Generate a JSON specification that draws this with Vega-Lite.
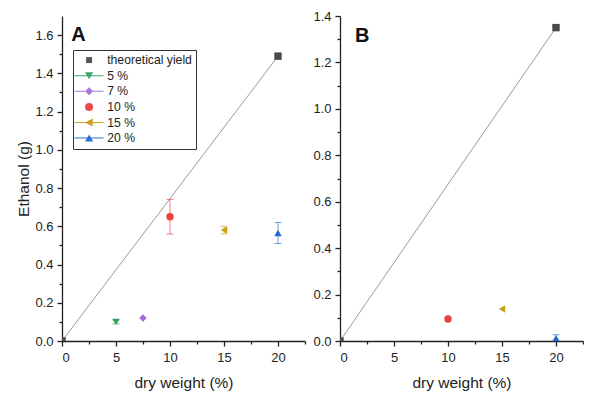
{
  "$schema": "https://vega.github.io/schema/vega-lite/v6.json",
  "background": "white",
  "padding": {"left": 16, "top": 10, "right": 0, "bottom": 0},
  "datasets": {
    "a": [
      {"series": "theoretical yield", "dw": 0, "eth": 0},
      {"series": "theoretical yield", "dw": 20, "eth": 1.49},
      {"series": "5 %", "dw": 5, "eth": 0.1, "lo": 0.09, "hi": 0.11},
      {"series": "7 %", "dw": 7.5, "eth": 0.12},
      {"series": "10 %", "dw": 10, "eth": 0.65, "lo": 0.56, "hi": 0.74},
      {"series": "15 %", "dw": 15, "eth": 0.58, "lo": 0.56, "hi": 0.6},
      {"series": "20 %", "dw": 20, "eth": 0.565, "lo": 0.51, "hi": 0.62}
    ],
    "b": [
      {"series": "theoretical yield", "dw": 0, "eth": 0},
      {"series": "theoretical yield", "dw": 20, "eth": 1.35},
      {"series": "10 %", "dw": 10, "eth": 0.095},
      {"series": "15 %", "dw": 15, "eth": 0.138},
      {"series": "20 %", "dw": 20, "eth": 0.012, "lo": 0.0, "hi": 0.027}
    ],
    "leg": [
      {"series": "theoretical yield"},
      {"series": "5 %"},
      {"series": "7 %"},
      {"series": "10 %"},
      {"series": "15 %"},
      {"series": "20 %"}
    ],
    "pa": [{"panel": "A"}],
    "pb": [{"panel": "B"}]
  },
  "hconcat": [
    {
      "width": 243,
      "height": 325,
      "resolve": {"scale": {"shape": "independent", "color": "independent"}, "axis": {"x": "independent", "y": "independent"}},
      "layer": [
        {
          "data": {"name": "a"},
          "transform": [{"filter": "datum.series === 'theoretical yield'"}],
          "mark": {"type": "line", "color": "#9a9a9a", "strokeWidth": 1, "clip": true},
          "encoding": {
            "x": {"field": "dw", "type": "quantitative", "scale": {"domain": [0, 22.5], "nice": false, "zero": false},
                  "axis": {"orient": "bottom", "values": [2.5, 7.5, 12.5, 17.5, 22.5], "labels": false, "title": null, "domain": false, "tickSize": 3}},
            "y": {"field": "eth", "type": "quantitative", "scale": {"domain": [0, 1.7], "nice": false, "zero": false},
                  "axis": {"orient": "left", "values": [0.1, 0.3, 0.5, 0.7, 0.9, 1.1, 1.3, 1.5], "labels": false, "title": null, "domain": false, "tickSize": 3}}
          }
        },
        {
          "data": {"name": "a"},
          "transform": [{"filter": "isValid(datum.lo)"}],
          "mark": {"type": "errorbar", "ticks": {"size": 7}, "thickness": 1, "opacity": 0.65},
          "encoding": {
            "x": {"field": "dw", "type": "quantitative", "axis": null},
            "y": {"field": "lo", "type": "quantitative", "axis": null},
            "y2": {"field": "hi"},
            "color": {"field": "series", "type": "nominal", "legend": null,
                      "scale": {"domain": ["theoretical yield", "5 %", "7 %", "10 %", "15 %", "20 %"], "range": ["#4a4a4a", "#2ca05a", "#a26bd6", "#ea4040", "#c9a010", "#1f6bd1"]}}
          }
        },
        {
          "data": {"name": "a"},
          "mark": {"type": "point", "filled": true, "opacity": 1, "size": 55, "clip": true},
          "encoding": {
            "x": {"field": "dw", "type": "quantitative",
                  "axis": {"orient": "bottom", "values": [0, 5, 10, 15, 20], "title": "dry weight (%)", "labelPadding": 5, "titlePadding": 11}},
            "y": {"field": "eth", "type": "quantitative",
                  "axis": {"orient": "left", "values": [0, 0.2, 0.4, 0.6, 0.8, 1.0, 1.2, 1.4, 1.6], "format": ".1f", "title": "Ethanol (g)", "labelPadding": 4, "titlePadding": 3}},
            "color": {"field": "series", "type": "nominal", "legend": null,
                      "scale": {"domain": ["theoretical yield", "5 %", "7 %", "10 %", "15 %", "20 %"], "range": ["#4a4a4a", "#2ca05a", "#a26bd6", "#ea4040", "#c9a010", "#1f6bd1"]}},
            "shape": {"field": "series", "type": "nominal", "legend": null,
                      "scale": {"domain": ["theoretical yield", "5 %", "7 %", "10 %", "15 %", "20 %"], "range": ["square", "triangle-down", "diamond", "circle", "triangle-left", "triangle-up"]}}
          }
        },
        {
          "data": {"name": "leg"},
          "mark": {"type": "point", "filled": true, "opacity": 1, "size": 64},
          "encoding": {
            "x": {"field": "dw", "type": "quantitative", "axis": null},
            "y": {"field": "eth", "type": "quantitative", "axis": null},
            "color": {"field": "series", "type": "nominal",
                      "scale": {"domain": ["theoretical yield", "5 %", "7 %", "10 %", "15 %", "20 %"], "range": ["#555555", "#3aa86a", "#a878d8", "#ea4a4a", "#c9a020", "#2a70d4"]},
                      "legend": {"orient": "none", "legendX": 11, "legendY": 34, "title": null, "strokeColor": "#333", "padding": 4, "symbolSize": 64, "symbolStrokeWidth": 0, "symbolOffset": 6, "labelOffset": 12, "labelFontSize": 12.2, "labelColor": "#222", "rowPadding": 2.6, "symbolOpacity": 1}},
            "shape": {"field": "series", "type": "nominal",
                      "legend": {"orient": "none", "legendX": 11, "legendY": 34, "title": null, "strokeColor": "#333", "padding": 4, "symbolSize": 64, "symbolStrokeWidth": 0, "symbolOffset": 6, "labelOffset": 12, "labelFontSize": 12.2, "labelColor": "#222", "rowPadding": 2.6, "symbolOpacity": 1},
                      "scale": {"domain": ["theoretical yield", "5 %", "7 %", "10 %", "15 %", "20 %"],
                                "range": ["M-0.75,-0.75H0.75V0.75H-0.75Z",
                                          "M-3.6,-0.13H3.6V0.13H-3.6Z M-1,-0.85L1,-0.85L0,0.9Z",
                                          "M-3.6,-0.13H3.6V0.13H-3.6Z M0,-1L1,0L0,1L-1,0Z",
                                          "circle",
                                          "M-3.6,-0.13H3.6V0.13H-3.6Z M-1,0L0.9,-1L0.9,1Z",
                                          "M-3.6,-0.13H3.6V0.13H-3.6Z M0,-0.9L1,0.85L-1,0.85Z"]}}
          }
        },
        {
          "data": {"name": "pa"},
          "mark": {"type": "text", "align": "left", "baseline": "alphabetic", "fontSize": 20, "fontWeight": "bold", "color": "#111"},
          "encoding": {
            "x": {"datum": 0.85, "type": "quantitative", "axis": null},
            "y": {"datum": 1.57, "type": "quantitative", "axis": null},
            "text": {"field": "panel"}
          }
        }
      ]
    },
    {
      "width": 243,
      "height": 325,
      "resolve": {"axis": {"x": "independent", "y": "independent"}},
      "layer": [
        {
          "data": {"name": "b"},
          "transform": [{"filter": "datum.series === 'theoretical yield'"}],
          "mark": {"type": "line", "color": "#9a9a9a", "strokeWidth": 1, "clip": true},
          "encoding": {
            "x": {"field": "dw", "type": "quantitative", "scale": {"domain": [0, 22.5], "nice": false, "zero": false},
                  "axis": {"orient": "bottom", "values": [2.5, 7.5, 12.5, 17.5, 22.5], "labels": false, "title": null, "domain": false, "tickSize": 3}},
            "y": {"field": "eth", "type": "quantitative", "scale": {"domain": [0, 1.4], "nice": false, "zero": false},
                  "axis": {"orient": "left", "values": [0.1, 0.3, 0.5, 0.7, 0.9, 1.1, 1.3], "labels": false, "title": null, "domain": false, "tickSize": 3}}
          }
        },
        {
          "data": {"name": "b"},
          "transform": [{"filter": "isValid(datum.lo)"}],
          "mark": {"type": "errorbar", "ticks": {"size": 7}, "thickness": 1, "opacity": 0.65},
          "encoding": {
            "x": {"field": "dw", "type": "quantitative", "axis": null},
            "y": {"field": "lo", "type": "quantitative", "axis": null},
            "y2": {"field": "hi"},
            "color": {"field": "series", "type": "nominal", "legend": null,
                      "scale": {"domain": ["theoretical yield", "5 %", "7 %", "10 %", "15 %", "20 %"], "range": ["#4a4a4a", "#2ca05a", "#a26bd6", "#ea4040", "#c9a010", "#1f6bd1"]}}
          }
        },
        {
          "data": {"name": "b"},
          "mark": {"type": "point", "filled": true, "opacity": 1, "size": 55, "clip": true},
          "encoding": {
            "x": {"field": "dw", "type": "quantitative",
                  "axis": {"orient": "bottom", "values": [0, 5, 10, 15, 20], "title": "dry weight (%)", "labelPadding": 5, "titlePadding": 11}},
            "y": {"field": "eth", "type": "quantitative",
                  "axis": {"orient": "left", "values": [0, 0.2, 0.4, 0.6, 0.8, 1.0, 1.2, 1.4], "format": ".1f", "title": null, "labelPadding": 4}},
            "color": {"field": "series", "type": "nominal", "legend": null},
            "shape": {"field": "series", "type": "nominal", "legend": null,
                      "scale": {"domain": ["theoretical yield", "5 %", "7 %", "10 %", "15 %", "20 %"], "range": ["square", "triangle-down", "diamond", "circle", "triangle-left", "triangle-up"]}}
          }
        },
        {
          "data": {"name": "pb"},
          "mark": {"type": "text", "align": "left", "baseline": "alphabetic", "fontSize": 20, "fontWeight": "bold", "color": "#111"},
          "encoding": {
            "x": {"datum": 1.4, "type": "quantitative", "axis": null},
            "y": {"datum": 1.29, "type": "quantitative", "axis": null},
            "text": {"field": "panel"}
          }
        }
      ]
    }
  ],
  "spacing": 6,
  "resolve": {"scale": {"color": "independent", "shape": "independent"}, "legend": {"color": "independent", "shape": "independent"}},
  "config": {
    "font": "Liberation Sans",
    "view": {"stroke": null},
    "axis": {"grid": false, "domainColor": "#222", "tickColor": "#222", "labelColor": "#222", "titleColor": "#222", "domainWidth": 1.3, "tickWidth": 1.3, "labelFontSize": 13, "titleFontSize": 15.5, "titleFontWeight": "normal", "tickSize": 5}
  }
}
